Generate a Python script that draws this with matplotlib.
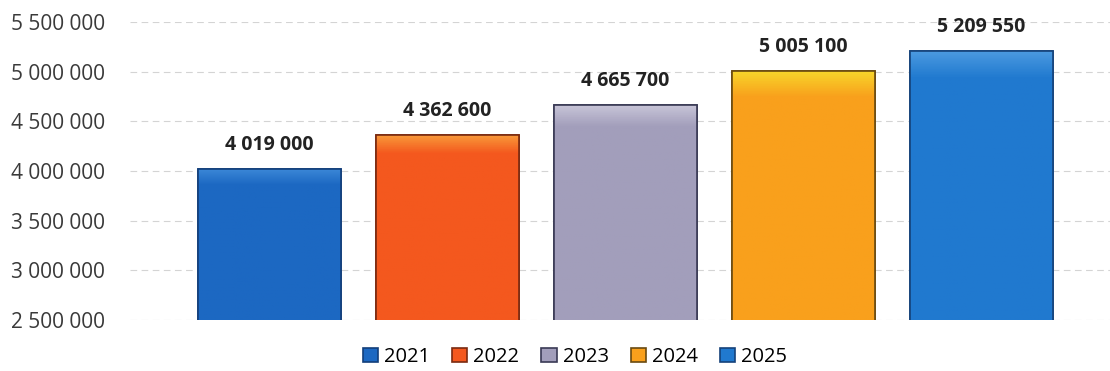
# Budget by year, bar chart with Excel-like look
import matplotlib.pyplot as plt
import numpy as np
from matplotlib.colors import to_rgb
from matplotlib.ticker import FuncFormatter, MultipleLocator

years = ['2021', '2022', '2023', '2024', '2025']
values = [4019000, 4362600, 4665700, 5005100, 5209550]
colors = ['#1c68c2', '#f4581e', '#a29ebb', '#f9a01c', '#2079cf']
tops = ['#3a86d6', '#f99a3a', '#c8c5d8', '#f8d42a', '#4b9ae0']
edges = ['#123e7a', '#7a2a10', '#3a3a55', '#6a4a10', '#15427a']

plt.rcParams['font.family'] = ['Open Sans', 'DejaVu Sans']

fig = plt.figure(figsize=(11.1, 3.71), dpi=100)
ax = fig.add_axes([130 / 1110, 51 / 371, 980 / 1110, 298 / 371])

x = np.arange(len(years))
bars = ax.bar(x, values, width=0.8, bottom=0, color=colors, edgecolor=edges,
              linewidth=1.2, label=years, zorder=3)

ymin, ymax = 2500000, 5500000

# gradient fill clipped to each bar (lighter bevel at the top)
for b, c, t in zip(bars, colors, tops):
    x0, w, h = b.get_x(), b.get_width(), b.get_height()
    n = 100
    frac = np.linspace(0, 1, n)[:, None]
    c1, c2 = np.array(to_rgb(t)), np.array(to_rgb(c))
    mix = np.clip((frac - 0.9) / 0.1, 0, 1)
    img = (c2 * (1 - mix[..., None]) + c1 * mix[..., None])
    img = np.repeat(img, 2, axis=1)
    im = ax.imshow(img, extent=[x0, x0 + w, ymin, h], origin='lower',
                   aspect='auto', zorder=3.5)
    im.set_clip_path(b)
    ax.bar(b.get_x() + w / 2, h, width=w, fill=False, edgecolor=b.get_edgecolor(),
           linewidth=1.2, zorder=4)

ax.set_xlim(-139.5 / 178, (1110 - 269.5) / 178)
ax.set_ylim(ymin, ymax)

for xi, v in zip(x, values):
    ax.annotate(f'{v:,}'.replace(',', ' '), (xi, v), xytext=(0, 10),
                textcoords='offset points', ha='center', va='bottom',
                fontsize=14, fontweight='bold', color='#222222')

ax.yaxis.set_major_locator(MultipleLocator(500000))
ax.yaxis.set_major_formatter(FuncFormatter(lambda v, p: f'{int(v):,}'.replace(',', ' ')))
ax.tick_params(axis='y', length=0, labelsize=15, labelcolor='#3a3a3a', pad=18)
ax.set_xticks([])
for s in ax.spines.values():
    s.set_visible(False)
ax.grid(axis='y', color='#d4d4d4', linestyle=(0, (6, 4)), linewidth=0.8, zorder=0)

fig.legend(bars, years, loc='center', bbox_to_anchor=(575 / 1110, 14 / 371), ncol=5,
           frameon=False, fontsize=14.5, handlelength=0.75, handleheight=0.75,
           handletextpad=0.3, columnspacing=1.1)

plt.savefig('out.png', dpi=100)
